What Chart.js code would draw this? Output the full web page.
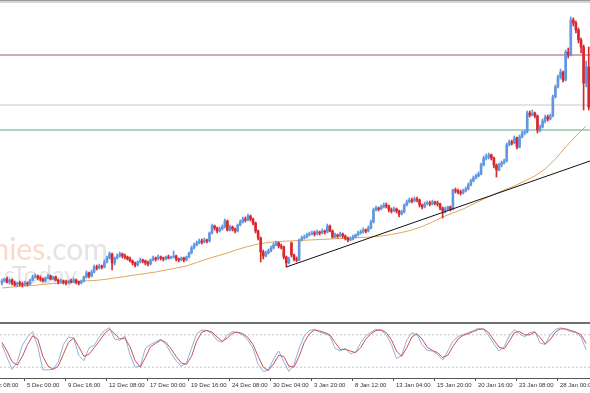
<!DOCTYPE html>
<html>
<head>
<meta charset="utf-8">
<script src="https://cdn.jsdelivr.net/npm/chart.js@4.4.1/dist/chart.umd.min.js"></script>
<style>
    html, body { margin: 0; padding: 0; background: #fff; }
    #wrap { position: relative; width: 590px; height: 393px; overflow: hidden; background: #fff; }
    #main { position: absolute; left: 0; top: 0; }
    #stoch { position: absolute; left: 0; top: 324px; }
    .rule { position: absolute; left: 0; width: 590px; }
</style>
</head>
<body>
<div id="wrap">
    <canvas id="main" width="590" height="323"></canvas>
    <div class="rule" style="top:0;height:1px;background:#9a9a9a"></div>
    <div class="rule" style="top:1px;height:2px;background:#d6d6d6"></div>
    <div class="rule" style="top:322px;height:2px;background:#6e6e6e"></div>
    <canvas id="stoch" width="590" height="69"></canvas>
</div>
<script>
"use strict";

// H4 candles (bar 0 = left edge), price in chart units
const opens = [
    40,42,44,41,43,40,38,40,39,38, 40,39,43,46,47,45,44,42,45,47,
    44,46,43,41,42,41,40,42,41,43, 41,40,42,46,50,47,51,56,55,57,
    56,61,65,69,60,65,67,69,67,66, 64,62,60,58,61,63,62,60,59,63,
    65,64,66,65,64,66,65,66,67,64, 63,65,63,66,70,75,78,80,82,81,
    83,82,90,97,95,92,94,96,102,93, 96,94,92,98,101,104,103,107,104,100,
    92,85,71,67,70,72,75,78,80,77, 76,66,60,80,68,64,63,83,85,86,
    88,89,90,89,91,90,92,91,97,92, 86,88,87,89,87,85,83,84,86,88,
    90,91,93,92,95,101,113,115,114,116, 118,117,113,112,114,112,109,111,118,121,
    123,122,124,123,118,116,119,120,119,121, 120,119,115,112,114,116,114,133,132,131,
    130,132,134,138,142,145,147,149,158,165, 166,168,165,158,153,158,160,162,178,181,
    180,185,176,186,190,191,210,208,210,207, 193,196,202,206,204,207,226,236,246,251,
    243,271,268,303,300,293,283,276,240,256
];
const highs = [
    44,45,46,44,44,42,41,42,41,42, 41,44,48,49,48,47,45,46,49,48,
    47,47,44,44,43,43,43,44,45,44, 42,43,47,52,51,53,58,58,59,58,
    63,67,71,70,66,69,71,70,69,67, 66,63,61,62,65,64,63,62,64,67,
    66,68,67,66,67,68,67,72,68,65, 66,66,67,71,77,80,82,84,84,85,
    84,91,99,98,96,96,98,104,103,98, 97,95,99,103,106,106,109,108,105,101,
    93,86,73,72,74,77,80,82,81,79, 77,67,66,81,69,66,84,87,88,90,
    91,92,92,93,92,94,93,99,98,93, 90,89,91,90,88,86,86,88,89,92,
    93,95,94,97,103,115,117,116,118,120, 120,118,115,116,115,113,113,119,123,125,
    125,126,126,124,119,121,122,122,123,122, 122,120,116,116,117,117,134,135,134,133,
    134,136,140,144,147,149,151,160,167,169, 170,169,166,159,160,162,164,180,183,183,
    187,186,188,192,193,212,212,213,211,208, 198,204,208,208,209,228,238,248,254,252,
    273,275,306,305,302,295,285,278,262,276
];
const lows = [
    38,41,40,39,38,37,36,37,36,37, 37,38,42,45,43,42,41,41,44,43,
    43,42,39,40,39,38,39,40,40,39, 38,39,41,45,45,46,50,53,54,54,
    55,60,64,53,58,64,66,65,64,63, 61,58,56,57,60,60,58,57,58,62,
    62,63,63,62,63,64,64,65,62,61, 62,61,62,65,69,74,77,79,79,80,
    80,81,89,93,90,91,93,95,92,92, 92,90,91,97,100,101,102,102,98,90,
    83,61,64,66,69,71,74,77,75,74, 64,56,59,66,62,61,62,82,84,85,
    87,88,87,88,88,89,89,90,91,85, 85,85,86,85,83,81,82,83,85,87,
    89,90,90,91,94,100,112,112,113,115, 115,111,110,111,110,106,108,110,117,120,
    120,121,121,116,114,115,118,117,118,118, 117,113,105,110,113,112,113,130,129,128,
    129,131,133,137,141,144,146,148,157,163, 164,163,155,146,152,156,159,161,177,178,
    179,174,175,185,188,190,206,207,205,190, 191,195,200,202,203,206,225,235,244,241,
    242,265,267,297,290,280,270,213,236,213
];
const closes = [
    42,44,41,43,40,38,40,39,38,40, 39,43,46,47,45,44,42,45,47,44,
    46,43,41,42,41,40,42,41,43,41, 40,42,46,50,47,51,56,55,57,56,
    61,65,69,60,65,67,69,67,66,64, 62,60,58,61,63,62,60,59,63,65,
    64,66,65,64,66,65,66,67,64,63, 65,63,66,70,75,78,80,82,81,83,
    82,90,97,95,92,94,96,102,93,96, 94,92,98,101,104,103,107,104,100,92,
    85,71,67,70,72,75,78,80,77,76, 66,60,64,68,64,63,83,85,86,88,
    89,90,89,91,90,92,91,97,92,86, 88,87,89,87,85,83,84,86,88,90,
    91,93,92,95,101,113,115,114,116,118, 117,113,112,114,112,109,111,118,121,123,
    122,124,123,118,116,119,120,119,121,120, 119,115,112,114,116,114,133,132,131,130,
    132,134,138,142,145,147,149,158,165,166, 168,165,158,153,158,160,162,178,181,180,
    185,176,186,190,191,210,208,210,207,193, 196,202,206,204,207,226,236,246,251,243,
    271,268,303,300,293,283,276,240,256,216
];

// moving average, read every 4th bar
const maValues = [
    35,36,37,37.5,38.5,39.5,40,41,42,42.5, 43.5,45,46.5,48,49.5,51,53,55,57,60.5,
    64,67,70,73.5,76.5,79,80.5,81.5,82,82.5, 83,83.5,84,84.5,85,85.5,86,87,88.5,90.5,
    93,96.5,101,106,110,114,119,124,128.5,133, 137,142,147,154,164,176,187,197
];

// stochastic %K and %D, read every 2nd bar
const stochK = [
    62,38,16,30,61,76,86,58,15,15, 16,30,62,76,74,42,32,56,60,76,
    88,93,72,70,78,43,20,22,55,62, 67,72,62,46,32,22,28,55,82,89,
    88,82,70,66,80,86,84,80,70,55, 25,12,15,35,50,30,12,25,55,78,
    88,90,85,82,78,55,50,55,45,48, 65,78,85,90,88,80,62,36,42,70,
    84,80,62,51,50,44,33,50,68,77, 80,84,88,92,90,78,63,50,58,78,
    90,82,76,84,86,65,62,80,90,93, 90,86,84,76,52
];
const stochD = [
    66,50,30,24,40,62,78,72,40,22, 16,22,44,66,74,58,40,44,56,68,
    82,90,82,72,74,58,32,20,38,58, 64,70,66,54,40,28,25,40,68,85,
    88,85,76,68,74,83,85,82,75,62, 40,20,14,26,42,40,22,20,40,66,
    82,89,87,84,80,66,53,53,50,47, 56,72,82,88,89,84,71,50,40,56,
    76,82,72,57,51,47,38,42,58,72, 79,82,86,90,91,84,70,57,54,68,
    84,86,80,80,85,75,63,71,85,91, 91,88,85,80,64
];

const levelPrices = [268, 218, 193];
const levelColors = ['#a0586a', '#c8c8c8', '#5aa882'];
const trendBars = [111, 229.5];
const trendPrices = [56, 162];
const stochLevels = [80, 20];

const tickBars = [-7, 9, 25, 41, 57, 73, 89, 105, 121, 137, 153, 169, 185, 201, 217];
const tickLabels = ['2 Dec 08:00', '5 Dec 00:00', '9 Dec 16:00', '12 Dec 08:00', '17 Dec 00:00',
    '19 Dec 16:00', '24 Dec 08:00', '30 Dec 04:00', '3 Jan 20:00', '8 Jan 12:00', '13 Jan 04:00',
    '15 Jan 20:00', '20 Jan 16:00', '23 Jan 08:00', '28 Jan 00:00'];

const X_MIN = -0.74, X_MAX = 229.5;
const BULL = '#6396e0', BEAR = '#d8282c';

const candleColors = opens.map((o, i) => closes[i] >= o ? BULL : BEAR);

const flatLine = (y, color, extra = {}) => ({
    type: 'line',
    data: [{x: X_MIN, y}, {x: X_MAX, y}],
    borderColor: color,
    borderWidth: 1,
    pointRadius: 0,
    ...extra
});

const watermark = {
    id: 'watermark',
    beforeDatasetsDraw(chart) {
        const ctx = chart.ctx;
        ctx.save();
        ctx.textBaseline = 'alphabetic';
        ctx.font = '30px Lato';
        const com = '.com', comW = ctx.measureText(com).width;
        ctx.textAlign = 'left';
        ctx.fillStyle = 'rgba(150,150,150,0.26)';
        ctx.fillText(com, 108 - comW, 260);
        ctx.textAlign = 'right';
        ctx.fillStyle = 'rgba(236,140,90,0.32)';
        ctx.fillText('Economies', 108 - comW, 260);
        ctx.font = '25px Lato';
        ctx.fillStyle = 'rgba(150,150,150,0.26)';
        ctx.fillText('sToday', 77, 284);
        ctx.restore();
    }
};

new Chart(document.getElementById('main'), {
    type: 'bar',
    data: {
        datasets: [
            {
                type: 'line',
                data: trendBars.map((b, i) => ({x: b, y: trendPrices[i]})),
                borderColor: '#111',
                borderWidth: 1,
                pointRadius: 0,
                order: 0
            },
            {
                data: opens.map((o, i) => ({x: i, y: [o, closes[i]]})),
                backgroundColor: candleColors,
                barThickness: 2,
                minBarLength: 1,
                grouped: false,
                order: 1
            },
            {
                data: lows.map((l, i) => ({x: i, y: [l, highs[i]]})),
                backgroundColor: candleColors,
                barThickness: 1,
                grouped: false,
                order: 2
            },
            {
                type: 'line',
                data: maValues.map((v, i) => ({x: i * 4, y: v})),
                borderColor: '#e2a55c',
                borderWidth: 1,
                pointRadius: 0,
                order: 3
            },
            ...levelPrices.map((p, i) => ({...flatLine(p, levelColors[i]), order: 4}))
        ]
    },
    options: {
        responsive: false,
        animation: false,
        events: [],
        layout: {padding: 0},
        plugins: {legend: {display: false}, tooltip: {enabled: false}},
        scales: {
            x: {type: 'linear', min: X_MIN, max: X_MAX, offset: false, display: false},
            y: {min: 0, max: 323, display: false}
        }
    },
    plugins: [watermark]
});

new Chart(document.getElementById('stoch'), {
    type: 'line',
    data: {
        datasets: [
            {
                data: stochD.map((v, i) => ({x: i * 2, y: v})),
                borderColor: '#c9505c',
                borderWidth: 1,
                pointRadius: 0
            },
            {
                data: stochK.map((v, i) => ({x: i * 2, y: v})),
                borderColor: '#8fb2d8',
                borderWidth: 1,
                pointRadius: 0
            },
            ...stochLevels.map(v => flatLine(v, '#c4c4c4', {borderDash: [2, 2]}))
        ]
    },
    options: {
        responsive: false,
        animation: false,
        events: [],
        layout: {padding: 0},
        plugins: {legend: {display: false}, tooltip: {enabled: false}},
        scales: {
            x: {
                type: 'linear', min: X_MIN, max: X_MAX, offset: false,
                afterBuildTicks: axis => { axis.ticks = tickBars.map(value => ({value})); },
                afterFit: axis => { axis.height = 15; axis.paddingLeft = 0; axis.paddingRight = 0; },
                border: {display: true, color: '#555', width: 1},
                grid: {drawOnChartArea: false, drawTicks: true, tickLength: 3, color: '#555'},
                ticks: {
                    autoSkip: false, maxRotation: 0, minRotation: 0,
                    align: 'start', labelOffset: 2, padding: 1,
                    color: '#333',
                    font: {family: 'Liberation Sans', size: 6},
                    callback: (v, i) => tickLabels[i]
                }
            },
            y: {min: 0, max: 100, display: false}
        }
    }
});
</script>
</body>
</html>
